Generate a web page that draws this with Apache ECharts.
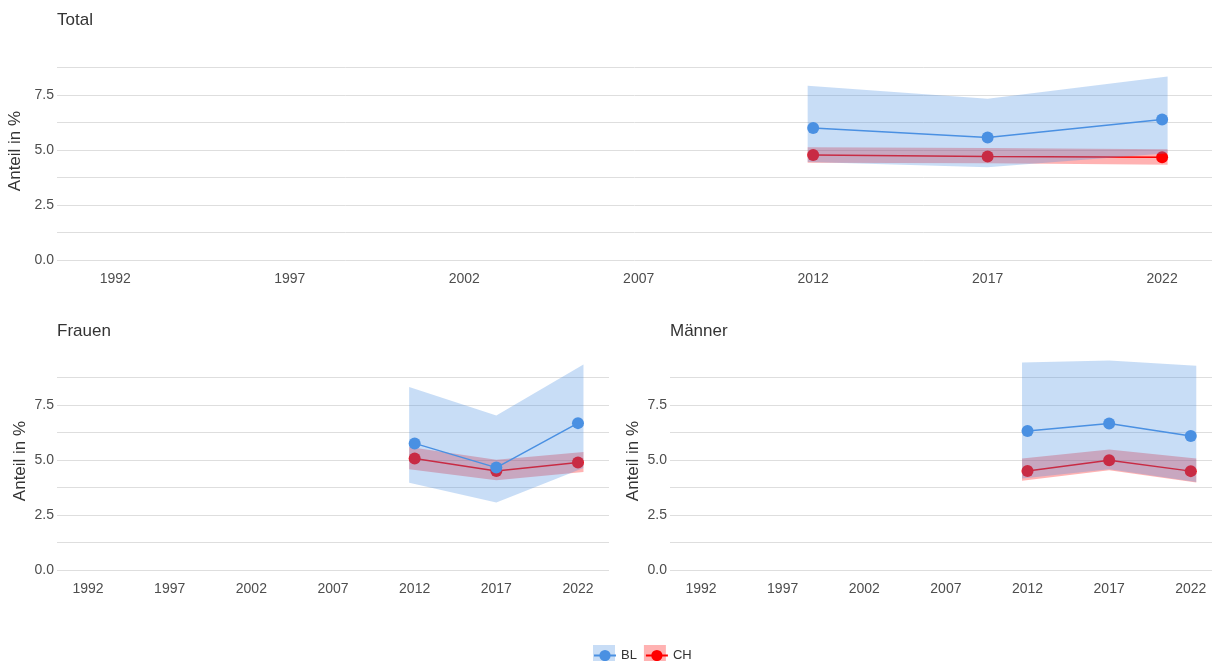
<!DOCTYPE html>
<html lang="de">
<head>
    <meta charset="UTF-8">
    <title>Anteil in %</title>
    <script src="https://cdn.jsdelivr.net/npm/echarts@6/dist/echarts.min.js"></script>
    <style>
        html, body { margin: 0; padding: 0; background: #fff; }
        #chart { width: 1213px; height: 661px; }
    </style>
</head>
<body>
<div id="chart"></div>
<script>
    // Daten
    var years = [2012, 2017, 2022];
    var xTicks = [1992, 1997, 2002, 2007, 2012, 2017, 2022];
    var panels = ['Total', 'Frauen', 'Männer'];

    // Total
    var blTotal = [5.99, 5.56, 6.38];
    var blTotalLo = [4.45, 4.21, 4.85];
    var blTotalHi = [7.91, 7.32, 8.33];
    var chTotal = [4.77, 4.70, 4.67];
    var chTotalLo = [4.42, 4.39, 4.33];
    var chTotalHi = [5.12, 5.09, 5.03];

    // Frauen
    var blFrauen = [5.75, 4.65, 6.67];
    var blFrauenLo = [3.96, 3.07, 4.63];
    var blFrauenHi = [8.31, 7.02, 9.33];
    var chFrauen = [5.06, 4.50, 4.88];
    var chFrauenLo = [4.58, 4.08, 4.45];
    var chFrauenHi = [5.59, 5.01, 5.36];

    // Maenner
    var blMaenner = [6.31, 6.65, 6.09];
    var blMaennerLo = [4.15, 4.58, 4.00];
    var blMaennerHi = [9.42, 9.51, 9.27];
    var chMaenner = [4.50, 4.98, 4.49];
    var chMaennerLo = [4.05, 4.53, 3.97];
    var chMaennerHi = [5.06, 5.47, 5.06];

    var BLUE = '#4a90e2';
    var RED = '#ff0000';
    var FONT = '"Liberation Sans", Arial, sans-serif';
    var PAD = 5.5; // Band ragt ein paar Pixel ueber die Punkte hinaus

    function pairs(vals) {
        return years.map(function (y, i) { return [y, vals[i]]; });
    }

    // Band (Vertrauensintervall) als Polygon ueber die Achsen
    function band(idx, name, lo, hi, fill, z) {
        return {
            name: name, type: 'custom', xAxisIndex: idx, yAxisIndex: idx,
            silent: true, z: z,
            data: years.map(function (y, i) { return [y, lo[i], hi[i]]; }),
            renderItem: function (params, api) {
                if (params.dataIndexInside !== 0) return null;
                var n = params.dataInsideLength, top = [], bottom = [];
                for (var i = 0; i < n; i++) {
                    var t = api.coord([api.value(0, i), api.value(2, i)]);
                    var b = api.coord([api.value(0, i), api.value(1, i)]);
                    var dx = i === 0 ? -PAD : (i === n - 1 ? PAD : 0);
                    top.push([t[0] + dx, t[1]]);
                    bottom.unshift([b[0] + dx, b[1]]);
                }
                return {
                    type: 'polygon',
                    shape: {points: top.concat(bottom)},
                    style: {fill: fill}
                };
            }
        };
    }

    function line(idx, name, vals, color, z) {
        return {
            name: name, type: 'line', xAxisIndex: idx, yAxisIndex: idx,
            data: pairs(vals), symbol: 'circle', symbolSize: 12, z: z,
            color: color,
            lineStyle: {width: 1.5, color: color},
            itemStyle: {color: color},
            emphasis: {disabled: true}
        };
    }

    var series = [];
    var sets = [
        [blTotal, blTotalLo, blTotalHi, chTotal, chTotalLo, chTotalHi],
        [blFrauen, blFrauenLo, blFrauenHi, chFrauen, chFrauenLo, chFrauenHi],
        [blMaenner, blMaennerLo, blMaennerHi, chMaenner, chMaennerLo, chMaennerHi]
    ];
    sets.forEach(function (s, i) {
        series.push(band(i, 'CH_band', s[4], s[5], 'rgba(255,0,0,0.3)', 2));
        series.push(line(i, 'CH', s[3], RED, 3));
        series.push(band(i, 'BL_band', s[1], s[2], 'rgba(74,144,226,0.3)', 4));
        series.push(line(i, 'BL', s[0], BLUE, 5));
    });

    var grids = [
        {left: 57, top: 42, width: 1155, height: 218},
        {left: 57, top: 352, width: 552, height: 218},
        {left: 670, top: 352, width: 542, height: 218}
    ].map(function (g) {
        g.outerBoundsMode = 'none';
        g.containLabel = false;
        return g;
    });
    var xRange = [[1990.33, 2023.43], [1990.1, 2023.9], [1990.1, 2023.3]];

    var xAxes = grids.map(function (g, i) {
        return {
            type: 'value', gridIndex: i, min: xRange[i][0], max: xRange[i][1],
            axisLine: {show: false}, axisTick: {show: false}, splitLine: {show: false},
            axisLabel: {
                customValues: xTicks, margin: 12,
                color: '#4d4d4d', fontSize: 14, fontFamily: FONT,
                formatter: function (v) { return String(v); }
            }
        };
    });

    var yAxes = grids.map(function (g, i) {
        return {
            type: 'value', gridIndex: i, min: 0, max: 9.9, interval: 1.25,
            name: 'Anteil in %', nameLocation: 'middle', nameGap: 28,
            nameTextStyle: {color: '#333', fontSize: 17, fontFamily: FONT},
            axisLine: {show: false}, axisTick: {show: false},
            splitLine: {show: true, showMaxLine: false, lineStyle: {color: '#dedede', width: 1}},
            axisLabel: {
                margin: 3, color: '#4d4d4d', fontSize: 14, fontFamily: FONT,
                showMaxLabel: false,
                formatter: function (v) {
                    return Math.abs(v / 2.5 - Math.round(v / 2.5)) < 1e-6 ? v.toFixed(1) : '';
                }
            }
        };
    });

    var titles = [
        {text: panels[0], left: 57, top: 12},
        {text: panels[1], left: 57, top: 323},
        {text: panels[2], left: 670, top: 323}
    ].map(function (t) {
        t.textStyle = {color: '#333', fontSize: 17, fontWeight: 'normal', fontFamily: FONT};
        t.padding = 0;
        return t;
    });

    var legendNames = ['BL', 'CH'];
    var option = {
        animation: false,
        backgroundColor: '#fff',
        title: titles,
        grid: grids,
        xAxis: xAxes,
        yAxis: yAxes,
        legend: [{
            left: 588, top: 640, itemWidth: 22, itemHeight: 22, itemGap: 8,
            data: [
                {name: legendNames[0], icon: 'rect', itemStyle: {color: 'rgba(74,144,226,0.3)'}},
                {name: legendNames[1], icon: 'rect', itemStyle: {color: 'rgba(255,0,0,0.3)'}}
            ],
            textStyle: {color: 'transparent', fontSize: 13, fontFamily: FONT},
            selectedMode: false
        }, {
            left: 588, top: 644, itemWidth: 22, itemHeight: 14, itemGap: 8,
            data: legendNames,
            textStyle: {color: '#333', fontSize: 13, fontFamily: FONT}
        }],
        series: series
    };

    echarts.init(document.getElementById('chart')).setOption(option);
</script>
</body>
</html>
